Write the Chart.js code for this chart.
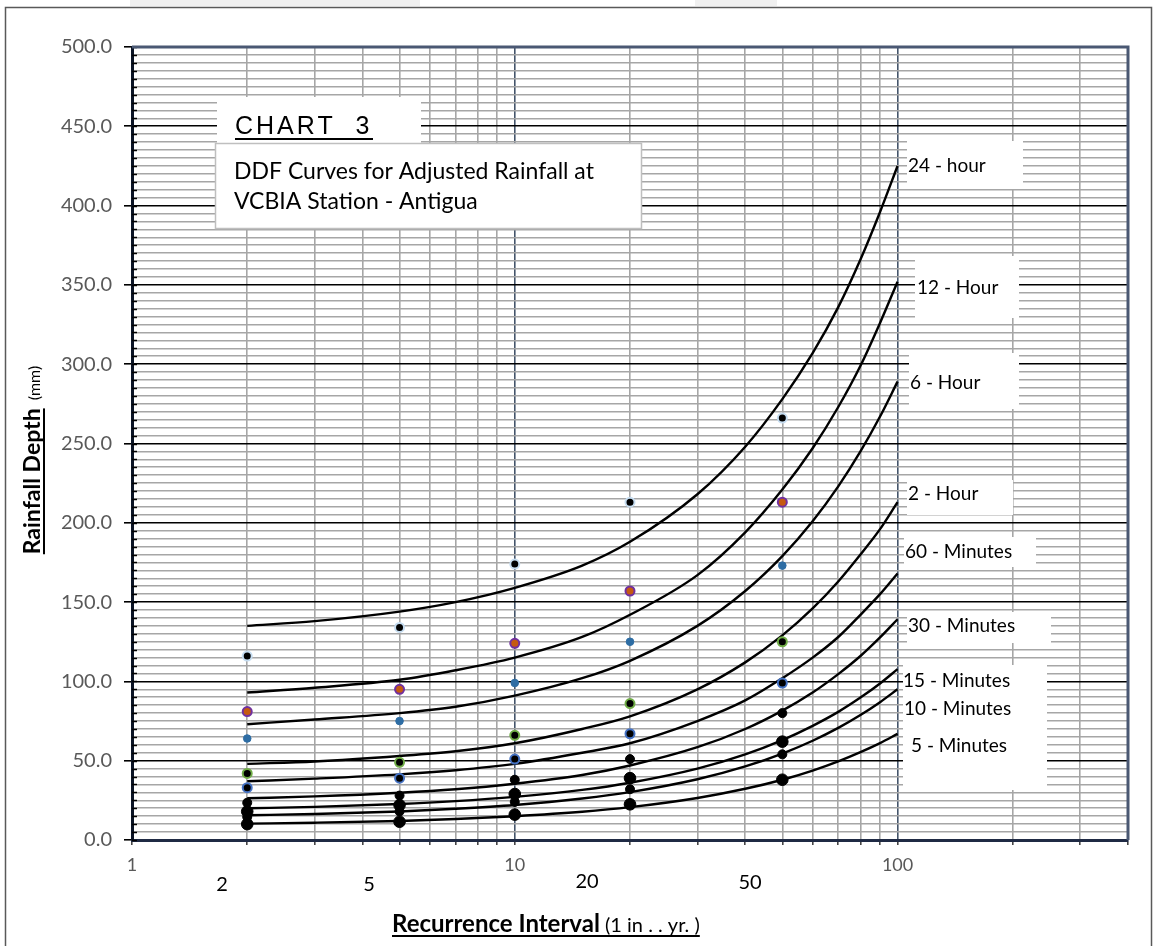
<!DOCTYPE html>
<html>
<head>
<meta charset="utf-8">
<script src="https://cdn.jsdelivr.net/npm/chart.js@4.4.1/dist/chart.umd.min.js"></script>
<style>
  html, body { margin: 0; padding: 0; background: #fff; }
</style>
</head>
<body>
<canvas id="ddf" width="1154" height="946"></canvas>
<script>
// return periods of the plotted station points
const years = [2, 5, 10, 20, 50];

// observed depths (mm), one array per duration
const pts24h = [116, 134, 174, 213, 266];
const pts12h = [81, 95, 124, 157, 213];
const pts6h = [64, 75, 99, 125, 173];
const pts2h = [42, 49, 66, 86, 125];
const pts60m = [33, 39, 51, 67, 99];
const pts30m = [23.5, 28, 38, 51, 80];
const pts15m = [18, 22, 29, 39, 62];
const pts10m = [14.5, 18, 24, 32, 54];
const pts5m = [10, 11.5, 16, 22.5, 38];

// fitted curves
const curveYears = [2, 3, 5, 7, 10, 15, 20, 30, 40, 50, 60, 70, 80, 90, 100];
const crv24h = [135, 138, 144, 150, 159, 173, 188, 218, 248, 278, 307, 336, 366, 396, 425];
const crv12h = [93, 96, 101, 107, 115, 128, 142, 167, 194, 221, 247, 273, 299, 326, 352];
const crv6h = [73, 76, 80, 84, 91, 102, 113, 135, 157, 179, 201, 223, 245, 267, 289];
const crv2h = [48, 49.5, 53, 56, 61, 70, 78, 95, 112, 129, 146, 163, 180, 196, 213];
const crv60m = [37, 38.7, 41.4, 44, 48, 55, 61, 75, 88, 102, 115, 128, 142, 155, 168];
const crv30m = [26.3, 27.5, 29.8, 32, 35.5, 41, 47, 58.5, 70, 81.6, 93, 104.6, 116, 127.7, 139.2];
const crv15m = [20, 20.9, 22.7, 24.5, 27.2, 31.6, 36.1, 45, 54, 63, 72, 80.8, 89.8, 98.7, 107.7];
const crv10m = [15.6, 16.4, 18, 19.7, 22.1, 26.2, 30.2, 38.3, 46.4, 54.5, 62.6, 70.7, 78.8, 86.9, 95];
const crv5m = [10.3, 10.9, 12, 13.2, 15, 17.8, 20.7, 26.5, 32.3, 38, 43.8, 49.6, 55.4, 61.1, 66.9];

const curveNames = ["24 - hour", "12 - Hour", "6 - Hour", "2 - Hour", "60 - Minutes",
  "30 - Minutes", "15 - Minutes", "10 - Minutes", "5 - Minutes"];

// axis ticks
const xGrid = [1, 2, 3, 4, 5, 6, 7, 8, 9, 10, 20, 30, 40, 50, 60, 70, 80, 90, 100, 200, 300, 400];
const xTickLabels = [1, 10, 100];
const yMax = 500;
const yMinorStep = 5;
const yMajorStep = 50;
const periodLabels = ["2", "5", "20", "50"];

const FONT = "Lato, 'Open Sans', sans-serif";
Chart.defaults.font.family = FONT;

const toXY = (xs, ys) => xs.map((x, i) => ({ x: x, y: ys[i] }));

const pointSets = [
  { data: pts24h, bg: "#000", border: "#c5dcf0", r: 4.5, bw: 2 },
  { data: pts12h, bg: "#c55a11", border: "#7030a0", r: 4.5, bw: 2 },
  { data: pts6h, bg: "#2e6da4", border: "#2e6da4", r: 3.8, bw: 1 },
  { data: pts2h, bg: "#000", border: "#70ad47", r: 4.5, bw: 2 },
  { data: pts60m, bg: "#000", border: "#4472c4", r: 4.5, bw: 2 },
  { data: pts30m, bg: "#000", border: "#000", r: 4.5, bw: 1 },
  { data: pts15m, bg: "#000", border: "#000", r: 5.8, bw: 1 },
  { data: pts10m, bg: "#000", border: "#000", r: 4.5, bw: 1 },
  { data: pts5m, bg: "#000", border: "#000", r: 5.8, bw: 1 }
];
const curves = [crv24h, crv12h, crv6h, crv2h, crv60m, crv30m, crv15m, crv10m, crv5m];

const datasets = [];
pointSets.forEach((p, i) => {
  datasets.push({
    label: curveNames[i] + " data",
    data: toXY(years, p.data),
    showLine: false,
    pointRadius: p.r,
    pointBackgroundColor: p.bg,
    pointBorderColor: p.border,
    pointBorderWidth: p.bw
  });
});
curves.forEach((c, i) => {
  datasets.push({
    label: curveNames[i],
    data: toXY(curveYears, c),
    showLine: true,
    borderColor: "#000",
    borderWidth: 2.4,
    pointRadius: 0,
    cubicInterpolationMode: "monotone",
    fill: false
  });
});

// boxes and text drawn around the plot
const decor = {
  id: "decor",
  beforeDraw(chart) {
    const ctx = chart.ctx;
    ctx.save();
    ctx.fillStyle = "#fff";
    ctx.fillRect(0, 0, chart.width, chart.height);
    ctx.fillStyle = "#f0f0f0";
    ctx.fillRect(130, 0, 290, 6);
    ctx.fillRect(695, 0, 82, 6);
    ctx.strokeStyle = "#595959";
    ctx.lineWidth = 1.5;
    ctx.strokeRect(5.5, 7.5, 1146, 945);
    ctx.restore();
  },
  beforeDatasetsDraw(chart) {
    const ctx = chart.ctx;
    const a = chart.chartArea;
    const ys = chart.scales.y;
    ctx.save();
    // small inner ticks on the value axis
    ctx.strokeStyle = "#000";
    ctx.lineWidth = 1.5;
    for (let v = 0; v <= yMax; v += yMinorStep) {
      const py = Math.round(ys.getPixelForValue(v)) + 0.5;
      ctx.beginPath();
      ctx.moveTo(a.left, py);
      ctx.lineTo(a.left + 5, py);
      ctx.stroke();
    }
    // top and right frame
    ctx.strokeStyle = "#4a5873";
    ctx.lineWidth = 3;
    ctx.beginPath();
    ctx.moveTo(a.left, a.top);
    ctx.lineTo(a.right, a.top);
    ctx.lineTo(a.right, a.bottom);
    ctx.stroke();

    // curve label boxes
    const boxes = [
      [907, 141, 116, 48, 908, 166],
      [915, 256, 104, 62, 917, 288],
      [909, 353, 110, 56, 910, 383],
      [907, 480, 106, 35, 908, 494],
      [904, 537, 132, 30, 905, 552],
      [907, 612, 144, 31, 908, 626]
    ];
    ctx.fillStyle = "#fff";
    boxes.forEach(b => ctx.fillRect(b[0], b[1], b[2], b[3]));
    ctx.fillRect(903, 665, 144, 125);
    ctx.fillStyle = "#000";
    ctx.font = "19px " + FONT;
    ctx.textBaseline = "middle";
    ctx.textAlign = "left";
    boxes.forEach((b, i) => ctx.fillText(curveNames[i], b[4], b[5]));
    ctx.fillText(curveNames[6], 903, 681);
    ctx.fillText(curveNames[7], 904, 709);
    ctx.fillText(curveNames[8], 911, 746);

    // chart title boxes
    ctx.fillStyle = "#fff";
    ctx.fillRect(217, 97, 204, 46);
    ctx.fillRect(215, 143, 427, 86);
    ctx.strokeStyle = "#bfbfbf";
    ctx.lineWidth = 1.5;
    ctx.strokeRect(215.5, 143.5, 426, 85);
    ctx.fillStyle = "#000";
    ctx.font = "25px 'Liberation Sans', Arial, sans-serif";
    ctx.textBaseline = "alphabetic";
    if ("letterSpacing" in ctx) ctx.letterSpacing = "3px";
    ctx.fillText("CHART  3", 235, 134);
    if ("letterSpacing" in ctx) ctx.letterSpacing = "0px";
    ctx.fillRect(235, 138, 138, 2);
    ctx.font = "23px " + FONT;
    ctx.textBaseline = "middle";
    ctx.fillText("DDF Curves for Adjusted Rainfall at", 234, 172);
    ctx.fillText("VCBIA Station - Antigua", 234, 202);
    ctx.restore();
  },
  afterDraw(chart) {
    const ctx = chart.ctx;
    ctx.save();
    ctx.fillStyle = "#000";
    ctx.textBaseline = "middle";
    ctx.textAlign = "center";
    ctx.font = "20px " + FONT;
    const subPos = [[222, 885], [369, 885], [587, 882], [750, 883]];
    periodLabels.forEach((t, i) => ctx.fillText(t, subPos[i][0], subPos[i][1]));

    // x axis title
    ctx.textAlign = "left";
    ctx.textBaseline = "alphabetic";
    ctx.font = "bold 24px " + FONT;
    const t1 = "Recurrence Interval";
    const w1 = ctx.measureText(t1).width;
    ctx.fillText(t1, 392, 932);
    ctx.font = "20px " + FONT;
    const t2 = " (1 in . . yr. )";
    const w2 = ctx.measureText(t2).width;
    ctx.fillText(t2, 392 + w1, 932);
    ctx.fillRect(392, 935, w1 + w2, 2);

    // y axis title
    ctx.translate(32, 460);
    ctx.rotate(-Math.PI / 2);
    ctx.font = "bold 23px " + FONT;
    const y1 = "Rainfall Depth";
    const yw1 = ctx.measureText(y1).width;
    ctx.font = "16px " + FONT;
    const y2 = "  (mm)";
    const yw2 = ctx.measureText(y2).width;
    const start = -(yw1 + yw2) / 2;
    ctx.font = "bold 23px " + FONT;
    ctx.fillText(y1, start, 8);
    ctx.fillRect(start, 11, yw1, 2);
    ctx.font = "16px " + FONT;
    ctx.fillText(y2, start + yw1, 8);
    ctx.restore();
  }
};

new Chart(document.getElementById("ddf"), {
  type: "scatter",
  data: { datasets: datasets },
  plugins: [decor],
  options: {
    responsive: false,
    animation: false,
    layout: { padding: { left: 0, right: 26, top: 47, bottom: 0 } },
    plugins: { legend: { display: false }, tooltip: { enabled: false } },
    scales: {
      x: {
        type: "logarithmic",
        min: 1,
        max: 400,
        afterBuildTicks: s => { s.ticks = xGrid.map(v => ({ value: v })); },
        afterFit: s => { s.height = 106; },
        ticks: {
          autoSkip: false,
          maxRotation: 0,
          color: "#595959",
          font: { family: FONT, size: 18 },
          padding: 9,
          callback: v => xTickLabels.includes(v) ? String(v) : ""
        },
        grid: {
          color: c => (c.tick && (c.tick.value === 10 || c.tick.value === 100)) ? "#44546a" : "#a6a6a6",
          lineWidth: 1.6,
          tickLength: 5,
          tickColor: "#444"
        },
        border: { color: "#1f2a44", width: 3 }
      },
      y: {
        min: 0,
        max: yMax,
        afterBuildTicks: s => {
          const t = [];
          for (let v = 0; v <= yMax; v += yMinorStep) t.push({ value: v });
          s.ticks = t;
        },
        afterFit: s => { s.width = 132; },
        ticks: {
          autoSkip: false,
          color: "#595959",
          font: { family: FONT, size: 20 },
          padding: 12,
          callback: v => v % yMajorStep === 0 ? v.toFixed(1) : ""
        },
        grid: {
          color: c => (c.tick && c.tick.value % yMajorStep === 0) ? "#000" : "#a6a6a6",
          lineWidth: 1.6,
          tickLength: 8,
          tickColor: c => (c.tick && c.tick.value % yMajorStep === 0) ? "#000" : "rgba(0,0,0,0)"
        },
        border: { color: "#0b1426", width: 3 }
      }
    }
  }
});
</script>
</body>
</html>
